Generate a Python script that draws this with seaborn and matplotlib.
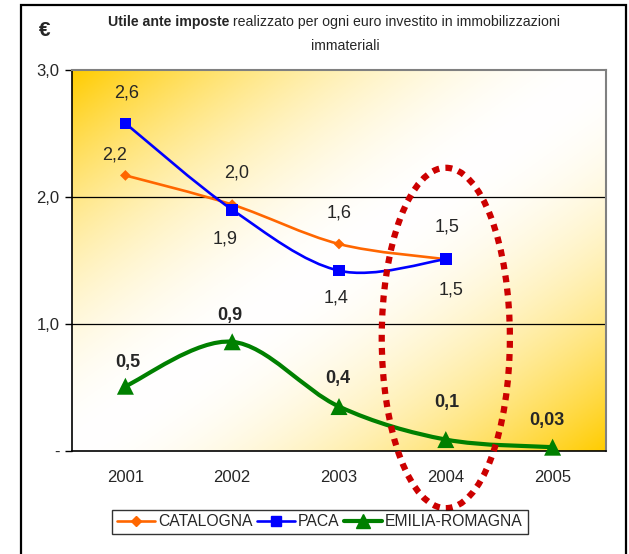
import seaborn as sns
import pandas as pd
import matplotlib.pyplot as plt
import numpy as np
from matplotlib.path import Path
from matplotlib.patches import PathPatch, Ellipse, Rectangle
from matplotlib.lines import Line2D

years = ["2001", "2002", "2003", "2004", "2005"]
catalogna = [2.17, 1.94, 1.63, 1.51]
paca = [2.58, 1.90, 1.42, 1.51]
emilia = [0.51, 0.86, 0.35, 0.09, 0.03]

catalogna_labels = ["2,2", "2,0", "1,6", "1,5"]
paca_labels = ["2,6", "1,9", "1,4", "1,5"]
emilia_labels = ["0,5", "0,9", "0,4", "0,1", "0,03"]

series_names = ["CATALOGNA", "PACA", "EMILIA-ROMAGNA"]
series_colors = {"CATALOGNA": "#FF6600", "PACA": "#0000FF", "EMILIA-ROMAGNA": "#008000"}

sns.set_style("white")
plt.rcParams['font.family'] = ['Liberation Sans', 'DejaVu Sans']


def smooth_path(xs, ys):
    # Excel-like smoothed line: Catmull-Rom segments as cubic Beziers
    pts = np.column_stack([xs, ys]).astype(float)
    n = len(pts)
    verts = [pts[0]]
    codes = [Path.MOVETO]
    for i in range(n - 1):
        p0 = pts[i - 1] if i > 0 else pts[i]
        p1 = pts[i]
        p2 = pts[i + 1]
        p3 = pts[i + 2] if i + 2 < n else pts[i + 1]
        c1 = p1 + (p2 - p0) / 6.0
        c2 = p2 - (p3 - p1) / 6.0
        verts += [c1, c2, p2]
        codes += [Path.CURVE4] * 3
    return Path(verts, codes)


fig = plt.figure(figsize=(6.29, 5.54), dpi=100)
ax = fig.add_axes([72 / 629, 103 / 554, 534 / 629, 381 / 554])

# gradient background: gold in top-left and bottom-right corners
gx, gy = np.meshgrid(np.linspace(0, 1, 300), np.linspace(0, 1, 300))
s = (gx + gy) / 2.0
k = np.abs(2 * s - 1) ** 1.8
gold = np.array([255, 204, 0]) / 255.0
img = (1 - k[..., None]) * np.ones(3) + k[..., None] * gold
ax.imshow(img, extent=(-0.5, 4.5, 0, 3), aspect='auto', origin='upper', zorder=0)

df = pd.concat([
    pd.DataFrame({"x": range(len(catalogna)), "y": catalogna, "serie": "CATALOGNA"}),
    pd.DataFrame({"x": range(len(paca)), "y": paca, "serie": "PACA"}),
    pd.DataFrame({"x": range(len(emilia)), "y": emilia, "serie": "EMILIA-ROMAGNA"}),
])

widths = {"CATALOGNA": 1.9, "PACA": 1.9, "EMILIA-ROMAGNA": 3.0}
for name in series_names:
    sub = df[df["serie"] == name]
    path = smooth_path(sub["x"].values, sub["y"].values)
    ax.add_patch(PathPatch(path, facecolor='none', edgecolor=series_colors[name],
                           lw=widths[name], zorder=3, clip_on=False))

sns.scatterplot(data=df, x="x", y="y", hue="serie", style="serie",
                markers={"CATALOGNA": "D", "PACA": "s", "EMILIA-ROMAGNA": "^"},
                palette=series_colors, size="serie",
                sizes={"CATALOGNA": 30, "PACA": 70, "EMILIA-ROMAGNA": 150},
                linewidth=0, legend=False, zorder=4, clip_on=False, ax=ax)

# data labels
cat_off = [(-8, 15), (3, 23), (0, 22), (1, 23)]
for i, (v, lab) in enumerate(zip(catalogna, catalogna_labels)):
    ax.annotate(lab, (i, v), xytext=cat_off[i], textcoords='offset points',
                ha='center', va='center', fontsize=13, zorder=5)
paca_off = [(1, 22), (-5, -21), (-2, -20), (4, -22)]
for i, (v, lab) in enumerate(zip(paca, paca_labels)):
    ax.annotate(lab, (i, v), xytext=paca_off[i], textcoords='offset points',
                ha='center', va='center', fontsize=13, zorder=5)
emi_off = [(2, 17), (-2, 19), (-1, 20), (1, 27), (-4, 19)]
for i, (v, lab) in enumerate(zip(emilia, emilia_labels)):
    ax.annotate(lab, (i, v), xytext=emi_off[i], textcoords='offset points',
                ha='center', va='center', fontsize=13, fontweight='bold', zorder=5)

# dotted ellipse highlighting 2004
ax.add_patch(Ellipse((3, 0.89), 1.2, 2.68, fill=False, edgecolor='#CC0000', lw=4.5,
                     linestyle=(0, (1.1, 1.0)), zorder=6, clip_on=False))

ax.set_xlim(-0.5, 4.5)
ax.set_ylim(0, 3)
ax.set_yticks([0, 1, 2, 3])
ax.set_yticklabels(["-", "1,0", "2,0", "3,0"], fontsize=12)
ax.set_xticks(range(len(years)))
ax.set_xticklabels(years, fontsize=12)
ax.set_xticks(np.arange(-0.5, 5, 1), minor=True)
ax.tick_params(axis='x', which='major', length=0, pad=14)
ax.tick_params(axis='x', which='minor', length=5, width=1, direction='out', color='black')
ax.tick_params(axis='y', length=5, width=1, direction='out', left=True, color='black', pad=4)
ax.set_xlabel("")
ax.set_ylabel("")
for yv in [1, 2]:
    ax.axhline(yv, color='black', lw=0.9, zorder=1)
ax.spines['left'].set_color('black')
ax.spines['bottom'].set_color('black')
ax.spines['left'].set_linewidth(1.2)
ax.spines['bottom'].set_linewidth(1.2)
ax.spines['top'].set_color('#808080')
ax.spines['right'].set_color('#808080')
ax.spines['top'].set_linewidth(1.5)
ax.spines['right'].set_linewidth(1.5)

# title pieces
t1 = fig.text(108 / 629, 1 - 22 / 554, "Utile ante imposte", fontsize=10.2, fontweight='bold',
              ha='left', va='center')
ax.annotate(" realizzato per ogni euro investito in immobilizzazioni", xy=(1, 0.5),
            xycoords=t1, ha='left', va='center', fontsize=10.2, annotation_clip=False)
fig.text(345 / 629, 1 - 46 / 554, "immateriali", fontsize=10.2, ha='center', va='center')
fig.text(45 / 629, 1 - 30 / 554, "€", fontsize=15, fontweight='bold', ha='center', va='center')

# legend
handles = [
    Line2D([0], [0], color="#FF6600", lw=1.9, marker='D', markersize=5, label="CATALOGNA"),
    Line2D([0], [0], color="#0000FF", lw=1.9, marker='s', markersize=7, label="PACA"),
    Line2D([0], [0], color="#008000", lw=3.0, marker='^', markersize=10, label="EMILIA-ROMAGNA"),
]
leg = fig.legend(handles=handles, loc='center', bbox_to_anchor=(320 / 629, 1 - 522 / 554),
                 ncol=3, fontsize=11.3, frameon=True, fancybox=False, handlelength=2.4,
                 handletextpad=0.2, columnspacing=0.3, borderpad=0.3, borderaxespad=0)
leg.get_frame().set_edgecolor('black')
leg.get_frame().set_linewidth(1.0)

# outer border
fig.patches.append(Rectangle((21 / 629, -0.02), 605 / 629, 1 - 5 / 554 + 0.02,
                             transform=fig.transFigure, fill=False, edgecolor='black',
                             lw=1.6, figure=fig))

fig.savefig("out.png", dpi=100)
